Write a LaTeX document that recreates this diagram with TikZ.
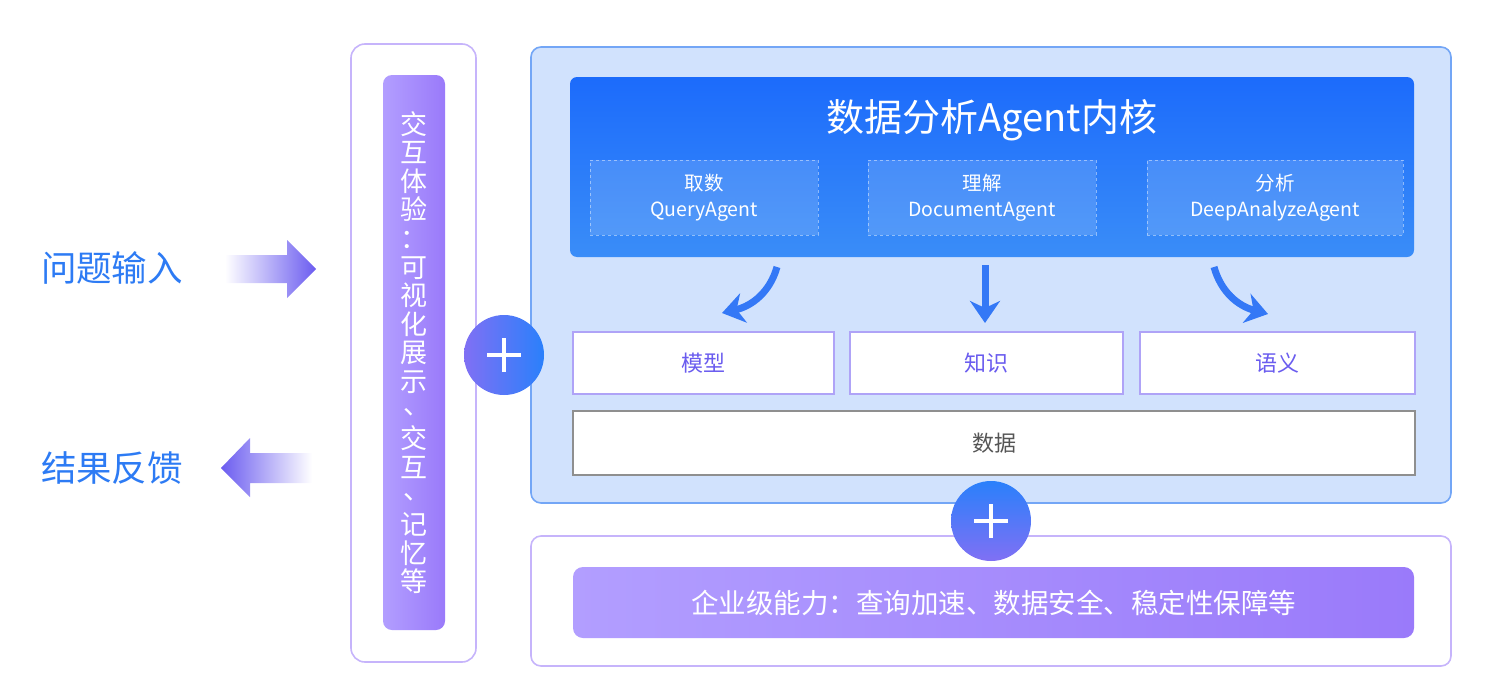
\documentclass[tikz,border=0pt]{standalone}
\usepackage{fontspec}
\setmainfont{Noto Sans CJK SC}
\usetikzlibrary{arrows.meta}
\definecolor{txtblue}{HTML}{2D7BF4}
\definecolor{arrpurple}{HTML}{6B5CF0}
\definecolor{lavline}{HTML}{C6B4FB}
\definecolor{barL}{HTML}{B29EFF}
\definecolor{barR}{HTML}{9A7AFA}
\definecolor{panelfill}{HTML}{D1E2FD}
\definecolor{panelline}{HTML}{73A6F6}
\definecolor{coreT}{HTML}{1C6BFB}
\definecolor{coreB}{HTML}{3A8DF8}
\definecolor{plusP}{HTML}{8070F4}
\definecolor{plusB}{HTML}{2A80FB}
\definecolor{boxtxt}{HTML}{6A5CEF}
\definecolor{boxline}{HTML}{AFA3F7}
\definecolor{datline}{HTML}{8F8F8F}
\definecolor{dattxt}{HTML}{555555}
\definecolor{curvearr}{HTML}{3478F6}
\newcommand{\vcomma}{\makebox[1em]{\hspace{0.25em}\smash{\raisebox{0.22em}{、}}\hfill}}
\tikzset{
  sidetxt/.style={text=txtblue, font=\fontsize{35.5}{40}\selectfont},
  outerbox/.style={draw=lavline, line width=1.6pt, fill=white, rounded corners=14pt, inner sep=0pt},
  purplebar/.style={left color=barL, right color=barR, rounded corners=9pt, inner sep=0pt, text=white},
  agentbox/.style={draw=white, draw opacity=0.45, dashed, fill=white, fill opacity=0.14, text opacity=1, text=white,
    minimum height=75pt, inner sep=0pt, align=center, font=\fontsize{19.5}{26}\selectfont},
  layerbox/.style={draw=boxline, line width=1.3pt, fill=white, text=boxtxt, minimum height=62pt, inner sep=0pt,
    font=\fontsize{22}{26}\selectfont},
  plusdisc/.style={circle, minimum size=80pt, inner sep=0pt},
  plusbar/.style={white, line width=4pt},
  curvy/.style={curvearr, line width=7pt, -{Stealth[length=22pt,width=30pt,inset=7pt]}}
}
\begin{document}
\begin{tikzpicture}[x=1pt,y=-1pt]
\useasboundingbox (0,0) rectangle (1500,688);

% side labels
\node[sidetxt] (inq) at (112,268) {问题输入};
\node[sidetxt] (res) at (112,468) {结果反馈};
\shade[left color=white, right color=arrpurple] (225,255) -- (287,255) -- (287,240) -- (316,269) -- (287,298) -- (287,283) -- (225,283) -- cycle;
\shade[left color=arrpurple, right color=white] (312,453) -- (250,453) -- (250,438) -- (221,468) -- (250,497) -- (250,483) -- (312,483) -- cycle;

% left panel
\node[outerbox, minimum width=125pt, minimum height=618pt] (lp) at (413.5,353) {};
\node[purplebar, minimum width=62pt, minimum height=555pt, align=center, font=\fontsize{27}{28.6}\selectfont] (ux) at (414,352.5)
  {交\\互\\体\\验\\：\\可\\视\\化\\展\\示\\\vcomma\\交\\互\\\vcomma\\记\\忆\\等};

% main panel
\node[draw=panelline, line width=1.6pt, fill=panelfill, rounded corners=10pt, minimum width=920pt, minimum height=456pt, inner sep=0pt] (mp) at (991,275) {};
\node[top color=coreT, bottom color=coreB, rounded corners=7pt, minimum width=844pt, minimum height=180pt, inner sep=0pt] (core) at (992,167) {};
\node[text=white, font=\fontsize{38}{42}\selectfont] (title) at (992,120) {数据分析Agent内核};
\node[agentbox, minimum width=228pt] (qa) at (704,197.5) {取数\\QueryAgent};
\node[agentbox, minimum width=228pt] (da) at (982,197.5) {理解\\DocumentAgent};
\node[agentbox, minimum width=256pt] (dpa) at (1275,197.5) {分析\\DeepAnalyzeAgent};

\node[layerbox, minimum width=261pt] (model) at (703.5,363) {模型};
\node[layerbox, minimum width=273pt] (know) at (986.5,363) {知识};
\node[layerbox, minimum width=275pt] (sem) at (1277.5,363) {语义};
\node[draw=datline, line width=1.3pt, fill=white, text=dattxt, minimum width=842pt, minimum height=64pt, inner sep=0pt, font=\fontsize{22}{26}\selectfont] (data) at (994,443) {数据};

% curved arrows
\coordinate (a1s) at (777,267);
\coordinate (a1e) at (722,313);
\coordinate (a2s) at (985,265);
\coordinate (a2e) at (985,323);
\coordinate (a3s) at (1214,267);
\coordinate (a3e) at (1268,314);
\draw[curvy] (a1s) .. controls (770,292) and (752,306) .. (a1e);
\draw[curvy] (a2s) -- (a2e);
\draw[curvy] (a3s) .. controls (1221,292) and (1238,306) .. (a3e);

% bottom panel
\node[outerbox, rounded corners=10pt, minimum width=920pt, minimum height=130pt] (bp) at (991,601) {};
\node[purplebar, rounded corners=10pt, minimum width=841pt, minimum height=71pt, font=\fontsize{27.5}{30}\selectfont] (ent) at (993.5,602.5) {企业级能力：查询加速、数据安全、稳定性保障等};

% plus discs
\node[plusdisc, left color=plusP, right color=plusB] (p1) at (504,355) {};
\draw[plusbar] ([xshift=-17pt]p1.center) -- ([xshift=17pt]p1.center);
\draw[plusbar] ([yshift=-17pt]p1.center) -- ([yshift=17pt]p1.center);
\node[plusdisc, top color=plusB, bottom color=plusP] (p2) at (991,521) {};
\draw[plusbar] ([xshift=-17pt]p2.center) -- ([xshift=17pt]p2.center);
\draw[plusbar] ([yshift=-17pt]p2.center) -- ([yshift=17pt]p2.center);
\end{tikzpicture}
\end{document}
